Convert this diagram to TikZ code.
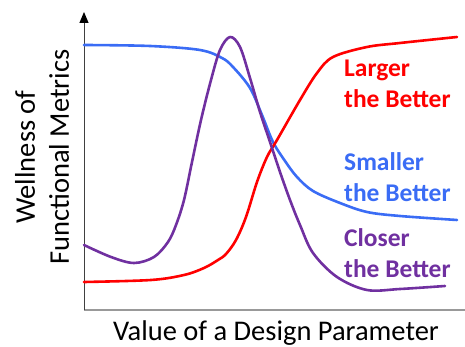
\documentclass[tikz,border=0pt]{standalone}
\usepackage{fontspec}
\setmainfont{Carlito}
\usetikzlibrary{arrows.meta}
\definecolor{largerred}{RGB}{255,0,0}
\definecolor{smallerblue}{RGB}{58,108,245}
\definecolor{closerpurple}{RGB}{112,48,160}
\tikzset{
    curve/.style = {
        line width=2.6pt,
        line cap=round,
        line join=round,
        },
    curve label/.style = {
        font=\fontsize{25.5}{31}\selectfont\bfseries,
        align=left,
        anchor=base west,
        inner sep=0pt,
        },
    axis title/.style = {
        font=\fontsize{28.5}{34}\selectfont,
        inner sep=0pt,
        },
    x axis/.style = {
        draw=black!40,
        line width=1.6pt,
        },
    y axis/.style = {
        draw=black!75,
        line width=1pt,
        -{Triangle[length=11pt, width=9pt, color=black]},
        },
}

\begin{document}
\begin{tikzpicture}[
            x=1pt, y=1pt,
            larger/.style={curve, draw=largerred},
            smaller/.style={curve, draw=smallerblue},
            closer/.style={curve, draw=closerpurple},
            ]
            \useasboundingbox (0,0) rectangle (465,347);

            % axes
            \coordinate (origin) at (84,37);
            \coordinate (ytip) at (84,335);
            \coordinate (xend) at (465,37);
            \draw[x axis] (origin) -- (xend);
            \draw[y axis] (origin) -- (ytip);

            % curves
            \draw[smaller] plot[smooth, tension=0.55] coordinates {
                (84,302) (150,301) (200,297) (222,289) (233,280) (250,259) (262,232)
                (273,205) (285,186) (297,170) (313,156) (340,144) (367,135) (400,131) (457,127)};
            \draw[larger] plot[smooth, tension=0.55] coordinates {
                (84,65) (151,67) (184,72) (204,79) (218,87) (226,93) (236,107) (246,130)
                (257,165) (267,190) (277,207) (300,247) (317,274) (333,290) (367,300)
                (400,304) (457,310)};
            \draw[closer] plot[smooth, tension=0.55] coordinates {
                (84,102) (111,90) (134,84) (154,90) (168,105) (176,122) (184,147) (192,185)
                (201,227) (211,267) (220,297) (230,310) (240,300) (250,269) (260,235)
                (270,205) (280,175) (290,147) (300,122) (313,94) (337,70) (367,57) (400,58) (445,61)};

            % labels (base = last line)
            \node[curve label, text=largerred] (larger) at (344,239) {Larger\\the Better};
            \node[curve label, text=smallerblue] (smaller) at (344,145) {Smaller\\the Better};
            \node[curve label, text=closerpurple] (closer) at (344,69) {Closer\\the Better};

            \node[axis title, rotate=90, align=center] (ytitle) at (42,190) {Wellness of\\Functional Metrics};
            \node[axis title, anchor=base] (xtitle) at (276,6) {Value of a Design Parameter};
\end{tikzpicture}
\end{document}
